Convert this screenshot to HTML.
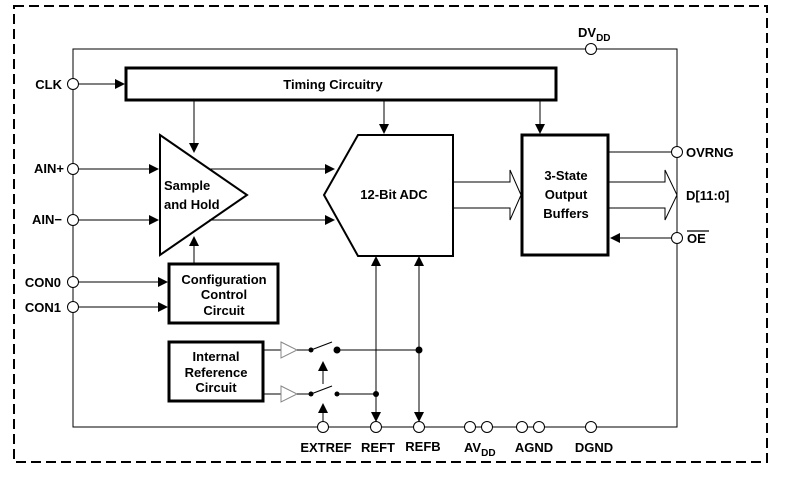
<!DOCTYPE html>
<html><head><meta charset="utf-8"><style>
html,body{margin:0;padding:0;background:#fff;}
svg{display:block;}
text{font-family:"Liberation Sans",Arial,sans-serif;font-weight:bold;font-size:13px;fill:#000;}
</style></head><body>
<svg width="796" height="485" viewBox="0 0 796 485" xmlns="http://www.w3.org/2000/svg">
<defs>
<marker id="a" markerWidth="10" markerHeight="10" refX="9" refY="5" orient="auto" markerUnits="userSpaceOnUse">
<path d="M0,0 L10,5 L0,10 Z" fill="#000"/></marker>
</defs>
<rect x="14" y="6" width="753" height="456" fill="none" stroke="#000" stroke-width="2" stroke-dasharray="10,5"/>
<rect x="73" y="49" width="604" height="378" fill="none" stroke="#000" stroke-width="1"/>

<!-- Timing -->
<rect x="126" y="68" width="430" height="32" fill="#fff" stroke="#000" stroke-width="3"/>
<text x="333" y="89" text-anchor="middle">Timing Circuitry</text>
<line x1="78" y1="84" x2="124" y2="84" stroke="#000" marker-end="url(#a)"/>
<line x1="194" y1="101" x2="194" y2="152" stroke="#000" marker-end="url(#a)"/>
<line x1="384" y1="101" x2="384" y2="133" stroke="#000" marker-end="url(#a)"/>
<line x1="540" y1="101" x2="540" y2="133" stroke="#000" marker-end="url(#a)"/>

<!-- S&H -->
<polygon points="160,135 247,195 160,255" fill="#fff" stroke="#000" stroke-width="2"/>
<text x="164" y="190">Sample</text>
<text x="164" y="209">and Hold</text>
<line x1="78" y1="169" x2="158" y2="169" stroke="#000" marker-end="url(#a)"/>
<line x1="78" y1="220" x2="158" y2="220" stroke="#000" marker-end="url(#a)"/>
<line x1="209" y1="169" x2="334" y2="169" stroke="#000" marker-end="url(#a)"/>
<line x1="209" y1="220" x2="334" y2="220" stroke="#000" marker-end="url(#a)"/>

<!-- ADC -->
<polygon points="358,135 453,135 453,256 358,256 324,195" fill="#fff" stroke="#000" stroke-width="2"/>
<text x="394" y="199" text-anchor="middle">12-Bit ADC</text>
<path d="M454,182 L510,182 L510,170 L521,195 L510,220 L510,208 L454,208" fill="none" stroke="#000" stroke-width="1"/>

<!-- Buffers -->
<rect x="522" y="135" width="86" height="120" fill="#fff" stroke="#000" stroke-width="3"/>
<text x="566" y="180" text-anchor="middle">3-State</text>
<text x="566" y="199" text-anchor="middle">Output</text>
<text x="566" y="218" text-anchor="middle">Buffers</text>
<line x1="609" y1="152" x2="672" y2="152" stroke="#000"/>
<path d="M609,182 L665,182 L665,170 L677,195 L665,220 L665,208 L609,208" fill="none" stroke="#000"/>
<line x1="672" y1="238" x2="611" y2="238" stroke="#000" marker-end="url(#a)"/>

<!-- Config -->
<rect x="169" y="264" width="109" height="59" fill="#fff" stroke="#000" stroke-width="3"/>
<text x="224" y="284" text-anchor="middle">Configuration</text>
<text x="224" y="299" text-anchor="middle">Control</text>
<text x="224" y="315" text-anchor="middle">Circuit</text>
<line x1="194" y1="263" x2="194" y2="237" stroke="#000" marker-end="url(#a)"/>
<line x1="78" y1="282" x2="167" y2="282" stroke="#000" marker-end="url(#a)"/>
<line x1="78" y1="307" x2="167" y2="307" stroke="#000" marker-end="url(#a)"/>

<!-- Internal ref -->
<rect x="169" y="342" width="94" height="59" fill="#fff" stroke="#000" stroke-width="3"/>
<text x="216" y="361" text-anchor="middle">Internal</text>
<text x="216" y="377" text-anchor="middle">Reference</text>
<text x="216" y="392" text-anchor="middle">Circuit</text>
<line x1="264" y1="350" x2="281" y2="350" stroke="#000"/>
<line x1="264" y1="394" x2="281" y2="394" stroke="#000"/>
<polygon points="281,342 297,350 281,358" fill="#fff" stroke="#888"/>
<polygon points="281,386 297,394 281,402" fill="#fff" stroke="#888"/>
<line x1="297" y1="350" x2="311" y2="350" stroke="#000"/>
<line x1="297" y1="394" x2="311" y2="394" stroke="#000"/>
<circle cx="311" cy="350" r="2.5"/><line x1="311" y1="350" x2="332" y2="342" stroke="#000"/>
<circle cx="337" cy="350" r="3.5"/>
<circle cx="311" cy="394" r="2.5"/><line x1="311" y1="394" x2="332" y2="386" stroke="#000"/>
<circle cx="337" cy="394" r="2.5"/>
<line x1="323" y1="384" x2="323" y2="362" stroke="#000" marker-end="url(#a)"/>
<line x1="323" y1="422" x2="323" y2="404" stroke="#000" marker-end="url(#a)"/>
<line x1="337" y1="350" x2="419" y2="350" stroke="#000"/>
<line x1="337" y1="394" x2="376" y2="394" stroke="#000"/>
<circle cx="419" cy="350" r="3.5"/>
<circle cx="376" cy="394" r="3"/>
<line x1="376" y1="330" x2="376" y2="257" stroke="#000" marker-end="url(#a)"/>
<line x1="376" y1="300" x2="376" y2="421" stroke="#000" marker-end="url(#a)"/>
<line x1="419" y1="330" x2="419" y2="257" stroke="#000" marker-end="url(#a)"/>
<line x1="419" y1="300" x2="419" y2="421" stroke="#000" marker-end="url(#a)"/>

<!-- pins -->
<g fill="#fff" stroke="#000" stroke-width="1">
<circle cx="591" cy="49" r="5.5"/>
<circle cx="73" cy="84" r="5.5"/>
<circle cx="73" cy="169" r="5.5"/>
<circle cx="73" cy="220" r="5.5"/>
<circle cx="73" cy="282" r="5.5"/>
<circle cx="73" cy="307" r="5.5"/>
<circle cx="677" cy="152" r="5.5"/>
<circle cx="677" cy="238" r="5.5"/>
<circle cx="323" cy="427" r="5.5"/>
<circle cx="376" cy="427" r="5.5"/>
<circle cx="419" cy="427" r="5.5"/>
<circle cx="470" cy="427" r="5.5"/>
<circle cx="487" cy="427" r="5.5"/>
<circle cx="522" cy="427" r="5.5"/>
<circle cx="539" cy="427" r="5.5"/>
<circle cx="591" cy="427" r="5.5"/>
</g>

<text x="578" y="37">DV<tspan font-size="10" dy="4">DD</tspan></text>
<text x="62" y="89" text-anchor="end">CLK</text>
<text x="64" y="173" text-anchor="end">AIN+</text>
<text x="62" y="224" text-anchor="end">AIN−</text>
<text x="61" y="287" text-anchor="end">CON0</text>
<text x="61" y="312" text-anchor="end">CON1</text>
<text x="686" y="157">OVRNG</text>
<text x="686" y="200">D[11:0]</text>
<text x="687" y="243">OE</text>
<line x1="687" y1="231" x2="709" y2="231" stroke="#000" stroke-width="1.2"/>
<text x="326" y="452" text-anchor="middle">EXTREF</text>
<text x="378" y="452" text-anchor="middle">REFT</text>
<text x="423" y="451" text-anchor="middle">REFB</text>
<text x="464" y="452">AV<tspan font-size="10" dy="4">DD</tspan></text>
<text x="534" y="452" text-anchor="middle">AGND</text>
<text x="594" y="452" text-anchor="middle">DGND</text>
</svg>
</body></html>
